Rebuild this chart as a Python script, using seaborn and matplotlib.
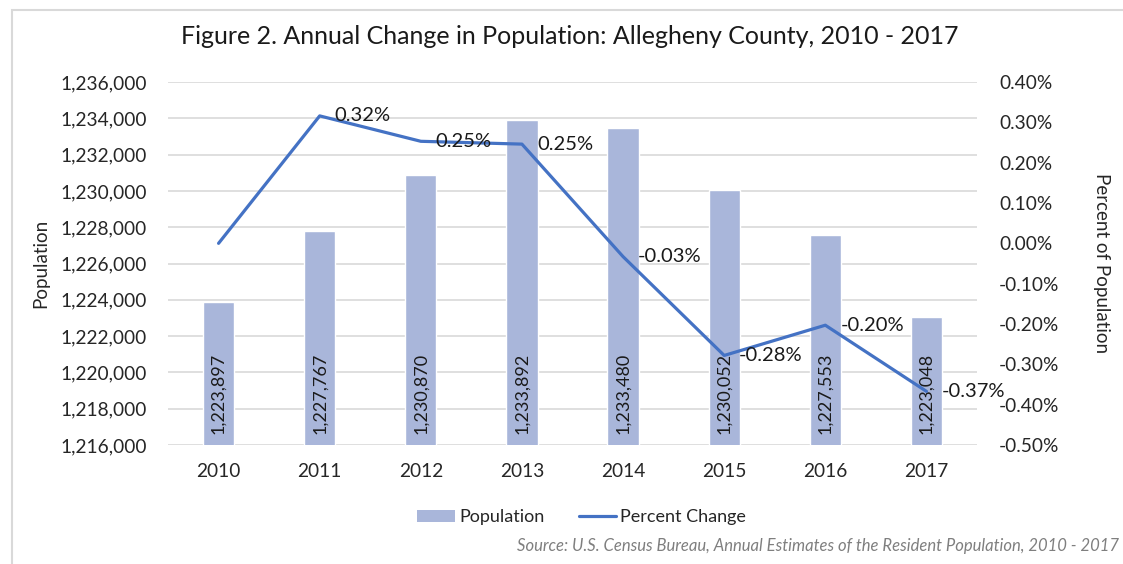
import numpy as np
import pandas as pd
import seaborn as sns
import matplotlib.pyplot as plt
from matplotlib.patches import Patch, Rectangle
from matplotlib.lines import Line2D
from matplotlib.ticker import FuncFormatter, MultipleLocator

years = ['2010', '2011', '2012', '2013', '2014', '2015', '2016', '2017']
population = [1223897, 1227767, 1230870, 1233892, 1233480, 1230052, 1227553, 1223048]
pct_change = [0.0, 0.316, 0.253, 0.246, -0.033, -0.278, -0.203, -0.367]

df = pd.DataFrame({'Year': years, 'Population': population, 'Pct': pct_change})

sns.set_style('white')
plt.rcParams['font.family'] = ['Lato', 'DejaVu Sans']

bar_col = '#a9b6da'
line_col = '#4472c4'
txt_col = '#262626'

fig = plt.figure(figsize=(11.23, 5.64), dpi=100)
ax = fig.add_axes([0.1496, 0.211, 0.7204, 0.6436])

# chart border
fig.patches.append(Rectangle((0.011, -0.05), 1.2, 1.032, transform=fig.transFigure,
                             fill=False, edgecolor='#d9d9d9', linewidth=1.5))

sns.barplot(data=df, x='Year', y='Population', color=bar_col, width=0.31,
            saturation=1, ax=ax, zorder=2)
ax.set_ylim(1216000, 1236000)
ax.yaxis.set_major_locator(MultipleLocator(2000))
ax.yaxis.set_major_formatter(FuncFormatter(lambda v, p: f'{int(v):,}'))
ax.grid(axis='y', color='#d9d9d9', linewidth=1.2, zorder=0)
ax.set_axisbelow(True)
for s in ax.spines.values():
    s.set_visible(False)
ax.tick_params(axis='both', length=0, labelsize=13.8, colors=txt_col)
ax.tick_params(axis='y', pad=15)
ax.tick_params(axis='x', pad=13)
ax.set_xlabel('')
ax.set_ylabel('Population', fontsize=13.5, color=txt_col, labelpad=8)

for i, v in enumerate(population):
    ax.annotate(f'{v:,}', xy=(i, 0), xycoords=('data', 'axes fraction'),
                xytext=(0, 11), textcoords='offset pixels', rotation=90,
                ha='center', va='bottom', fontsize=13, color='#1a1a1a')

ax2 = ax.twinx()
sns.lineplot(x=np.arange(len(years)), y=pct_change, color=line_col, linewidth=2.3, ax=ax2)
ax2.set_ylim(-0.5, 0.4)
ax2.yaxis.set_major_locator(MultipleLocator(0.1))
ax2.yaxis.set_major_formatter(FuncFormatter(lambda v, p: f'{v:.2f}%'))
for s in ax2.spines.values():
    s.set_visible(False)
ax2.tick_params(axis='y', length=0, labelsize=13.8, colors=txt_col, pad=16)
ax2.set_ylabel('Percent of Population', fontsize=13.5, color=txt_col,
               rotation=270, labelpad=36)
ax.set_xlim(-0.5, len(years) - 0.5)

for i, v in enumerate(pct_change):
    if i == 0:
        continue
    ax2.annotate(f'{v:.2f}%', xy=(i, v), xytext=(15, 0), textcoords='offset pixels',
                 ha='left', va='center', fontsize=14.5, color='#1a1a1a')

fig.suptitle('Figure 2. Annual Change in Population: Allegheny County, 2010 - 2017',
             x=0.507, y=0.955, fontsize=18, color='#1a1a1a')

handles = [Patch(facecolor=bar_col, edgecolor='none'),
           Line2D([0], [0], color=line_col, linewidth=2.3)]
fig.legend(handles, ['Population', 'Percent Change'], loc='center',
           bbox_to_anchor=(0.518, 0.083), ncol=2, frameon=False, fontsize=13,
           handlelength=2.1, handletextpad=0.2, columnspacing=1.9)

fig.text(0.996, 0.018, 'Source: U.S. Census Bureau, Annual Estimates of the Resident Population, 2010 - 2017',
         ha='right', va='bottom', style='italic', fontsize=12, color='#7f7f7f')

fig.savefig('out.png', dpi=100)
